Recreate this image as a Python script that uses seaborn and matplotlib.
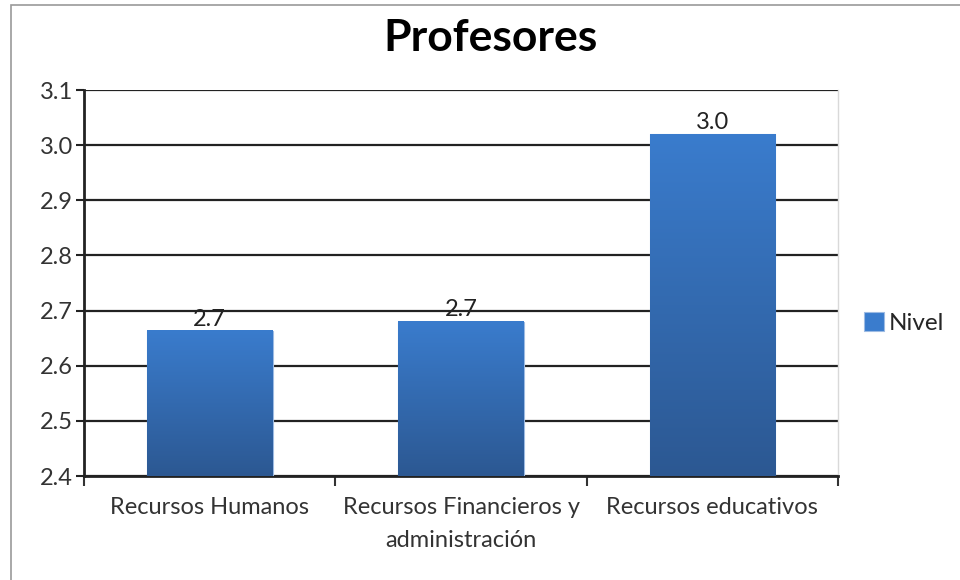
import numpy as np
import pandas as pd
import matplotlib
matplotlib.use("Agg")
import matplotlib.pyplot as plt
from matplotlib.colors import LinearSegmentedColormap
from matplotlib.patches import Rectangle
import seaborn as sns

# values
categories = ["Recursos Humanos", "Recursos Financieros y\nadministración", "Recursos educativos"]
nivel = [2.663, 2.680, 3.020]
series_name = "Nivel"
y_ticks = [2.4, 2.5, 2.6, 2.7, 2.8, 2.9, 3.0, 3.1]
y_min, y_max = 2.4, 3.1

df = pd.DataFrame({"categoria": categories, "valor": nivel})

sns.set_theme(style="white")
plt.rcParams["font.family"] = ["Lato", "DejaVu Sans"]

fig = plt.figure(figsize=(9.6, 5.8), dpi=100)
ax = fig.add_axes([0.0875, 0.1793, 0.7855, 0.6655])

top_col = "#3a7ccd"
bot_col = "#2c5892"
sns.barplot(data=df, x="categoria", y="valor", color=top_col, width=0.5,
            saturation=1, ax=ax, zorder=3, label=series_name)

# vertical gradient inside each bar (light on top, dark at the bottom)
cmap = LinearSegmentedColormap.from_list("grad", [bot_col, top_col])
grad = np.linspace(0, 1, 256).reshape(-1, 1)
for p in ax.patches:
    x0, w, h = p.get_x(), p.get_width(), p.get_height()
    ax.imshow(grad, cmap=cmap, aspect="auto", origin="lower",
              extent=[x0, x0 + w, y_min, h], zorder=3.5)
    p.set_edgecolor("#9dbbe3")
    p.set_linewidth(0.8)

ax.set_xlim(-0.5, 2.5)
ax.set_ylim(y_min, y_max)
ax.set_yticks(y_ticks)
ax.set_yticklabels([f"{v:.1f}" for v in y_ticks])

ax.yaxis.grid(True, color="#222222", linewidth=1.6, zorder=0)
ax.set_axisbelow(True)

ax.bar_label(ax.containers[0], fmt="%.1f", padding=1, fontsize=17,
             color="#222222", zorder=5)

ax.set_xlabel("")
ax.set_ylabel("")
ax.tick_params(axis="y", which="major", direction="out", length=6, width=1.5,
               color="#222222", labelsize=17, labelcolor="#333333", left=True, pad=2)
ax.tick_params(axis="x", which="major", length=0, labelsize=17,
               labelcolor="#333333", pad=15)
for lbl in ax.get_xticklabels():
    lbl.set_linespacing(1.7)
ax.set_xticks([-0.5, 0.5, 1.5, 2.5], minor=True)
ax.tick_params(axis="x", which="minor", direction="out", length=7, width=1.5,
               color="#333333", bottom=True)

for side in ["left", "bottom"]:
    ax.spines[side].set_color("#222222")
    ax.spines[side].set_linewidth(2)
ax.spines["top"].set_visible(False)
ax.spines["right"].set_color("#d9d9d9")
ax.spines["right"].set_linewidth(1)

fig.suptitle("Profesores", x=0.511, y=0.935, fontsize=32, fontweight="bold",
             color="black", va="center")

ax.legend(loc="center left", bbox_to_anchor=(1.022, 0.396), frameon=False,
          fontsize=17.5, handlelength=0.8, handleheight=0.8, handletextpad=0.2,
          borderaxespad=0)

# outer chart frame
fig.patches.append(Rectangle((11 / 960, -0.02), 1.1, 1 - 5 / 580 + 0.02,
                             transform=fig.transFigure, fill=False,
                             edgecolor="#9a9a9a", linewidth=1.2))

fig.savefig("out.png", dpi=100)
